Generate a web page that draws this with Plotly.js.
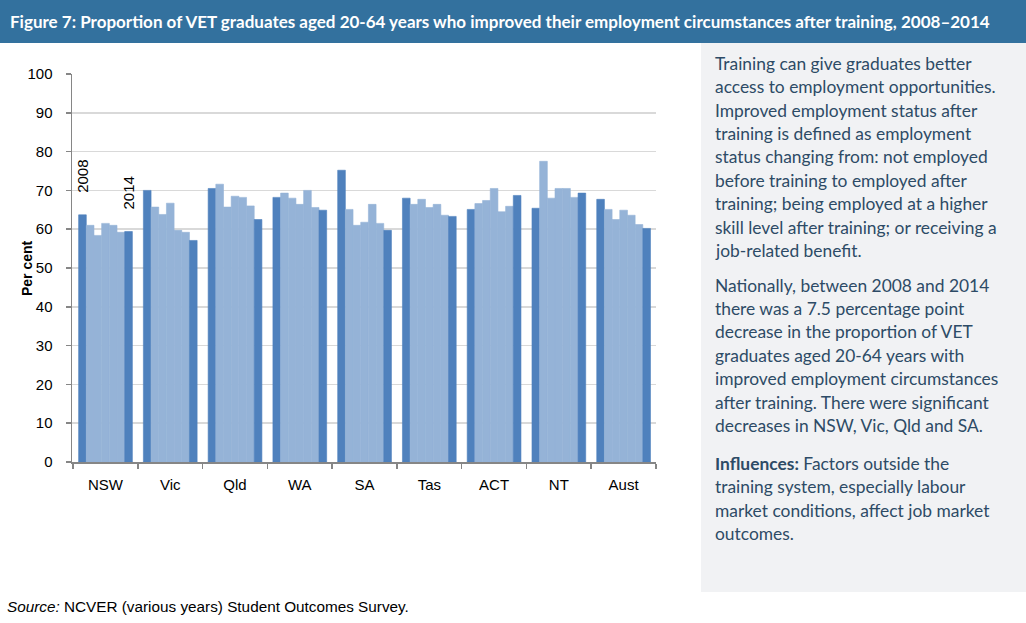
<!DOCTYPE html>
<html>
<head>
<meta charset="utf-8">
<script src="https://cdn.plot.ly/plotly-3.0.1.min.js"></script>
<style>html,body{margin:0;padding:0;background:#fff;}#chart{width:1026px;height:623px;}</style>
</head>
<body>
<div id="chart"></div>
<script>
// ---- data ----
const categories = ["NSW", "Vic", "Qld", "WA", "SA", "Tas", "ACT", "NT", "Aust"];
const years = ["2008", "2009", "2010", "2011", "2012", "2013", "2014"];
const v2008 = [63.7, 70.0, 70.5, 68.2, 75.2, 68.0, 65.1, 65.4, 67.7];
const v2009 = [61.0, 65.7, 71.6, 69.3, 65.1, 66.4, 66.6, 77.5, 65.1];
const v2010 = [58.4, 63.8, 65.7, 68.0, 61.0, 67.7, 67.4, 68.0, 62.5];
const v2011 = [61.5, 66.7, 68.5, 66.4, 61.8, 65.6, 70.5, 70.5, 64.9];
const v2012 = [61.0, 59.7, 68.2, 70.0, 66.4, 66.4, 64.5, 70.5, 63.6];
const v2013 = [59.2, 59.2, 66.0, 65.6, 61.5, 63.6, 65.9, 68.2, 61.2];
const v2014 = [59.4, 57.1, 62.5, 64.9, 59.7, 63.3, 68.7, 69.3, 60.2];
const yTickVals = [0, 10, 20, 30, 40, 50, 60, 70, 80, 90, 100];

const titleText = "Figure 7: Proportion of VET graduates aged 20-64 years who improved their employment circumstances after training, 2008\u20132014";
const sideLines = [
  ["Training can give graduates better", "access to employment opportunities.", "Improved employment status after", "training is defined as employment", "status changing from: not employed", "before training to employed after", "training; being employed at a higher", "skill level after training; or receiving a", "job-related benefit."],
  ["Nationally, between 2008 and 2014", "there was a 7.5 percentage point", "decrease in the proportion of VET", "graduates aged 20-64 years with", "improved employment circumstances", "after training. There were significant", "decreases in NSW, Vic, Qld and SA."],
  ["<b>Influences:</b> Factors outside the", "training system, especially labour", "market conditions, affect job market", "outcomes."]
];
const sourceText = "<i>Source:</i> NCVER (various years) Student Outcomes Survey.";

// ---- layout geometry ----
const W = 1026, H = 623;
const mL = 72, mR = 370, mT = 74, mB = 161;
const pw = W - mL - mR, ph = H - mT - mB;
const px = x => (x - mL) / pw;
const py = y => (H - mB - y) / ph;

const dark = "#4f81bd", light = "#95b3d7";
const series = [v2008, v2009, v2010, v2011, v2012, v2013, v2014];
const traces = series.map((vals, i) => {
  const c = (i === 0 || i === series.length - 1) ? dark : light;
  return {
    type: "bar",
    name: years[i],
    x: categories,
    y: vals,
    marker: {color: c, line: {width: 0.6, color: c}},
    hoverinfo: "x+y+name"
  };
});

const textColor = "#2d4b66";
const annotations = [];
annotations.push({xref: "paper", yref: "paper", x: px(8), y: py(21), xanchor: "left", yanchor: "middle",
  text: "<b>" + titleText + "</b>", showarrow: false, font: {family: "Lato", size: 17, color: "#ffffff"}});

const paraStarts = [63.3, 285, 463.3];
const lineH = 23.4;
sideLines.forEach((para, p) => {
  para.forEach((ln, k) => {
    annotations.push({xref: "paper", yref: "paper", x: px(713), y: py(paraStarts[p] + k * lineH),
      xanchor: "left", yanchor: "middle", text: ln, showarrow: false,
      font: {family: "Lato", size: 17.4, color: textColor}});
  });
});
annotations.push({xref: "paper", yref: "paper", x: px(5), y: py(606), xanchor: "left", yanchor: "middle",
  text: sourceText, showarrow: false, font: {family: "Liberation Sans", size: 15.3, color: "#000000"}});
annotations.push({xref: "x", yref: "y", x: categories[0], y: v2008[0], xshift: -23, yshift: 20,
  xanchor: "center", yanchor: "bottom", text: years[0], textangle: -90, showarrow: false,
  font: {family: "Liberation Sans", size: 15, color: "#000"}});
annotations.push({xref: "x", yref: "y", x: categories[0], y: v2014[0], xshift: 23, yshift: 20,
  xanchor: "center", yanchor: "bottom", text: years[6], textangle: -90, showarrow: false,
  font: {family: "Liberation Sans", size: 15, color: "#000"}});
annotations.push({xref: "paper", yref: "paper", x: px(27), y: py(268), xanchor: "center", yanchor: "middle",
  text: "<b>Per cent</b>", textangle: -90, showarrow: false,
  font: {family: "Liberation Sans", size: 14, color: "#000"}});

const shapes = [
  {type: "rect", xref: "paper", yref: "paper", x0: px(0), x1: px(W), y0: py(43), y1: py(0),
   fillcolor: "#33719e", line: {width: 0}, layer: "below"},
  {type: "rect", xref: "paper", yref: "paper", x0: px(701), x1: px(W), y0: py(592), y1: py(43),
   fillcolor: "#f1f2f4", line: {width: 0}, layer: "below"}
];

const layout = {
  width: W, height: H,
  margin: {l: mL, r: mR, t: mT, b: mB, pad: 0},
  paper_bgcolor: "#ffffff", plot_bgcolor: "rgba(0,0,0,0)",
  showlegend: false,
  barmode: "group", bargap: 0.17, bargroupgap: 0,
  font: {family: "Liberation Sans", size: 15, color: "#000"},
  xaxis: {type: "category", showgrid: false, showline: true, linecolor: "#868686", linewidth: 1.5,
    ticks: "outside", tickson: "boundaries", ticklen: 5, tickcolor: "#868686", tickwidth: 1.5,
    ticklabelstandoff: 8,
    tickfont: {family: "Liberation Sans", size: 15, color: "#000"}, fixedrange: true},
  yaxis: {range: [0, 100], tickvals: yTickVals, showgrid: true, gridcolor: "#d9d9d9", gridwidth: 1.5,
    zeroline: false, showline: true, linecolor: "#868686", linewidth: 1.5,
    ticks: "outside", ticklen: 5, tickcolor: "#868686", tickwidth: 1.5,
    ticklabelstandoff: 10,
    tickfont: {family: "Liberation Sans", size: 15, color: "#000"}, fixedrange: true},
  annotations: annotations,
  shapes: shapes
};

Plotly.newPlot("chart", traces, layout, {displayModeBar: false, staticPlot: true});
</script>
</body>
</html>
